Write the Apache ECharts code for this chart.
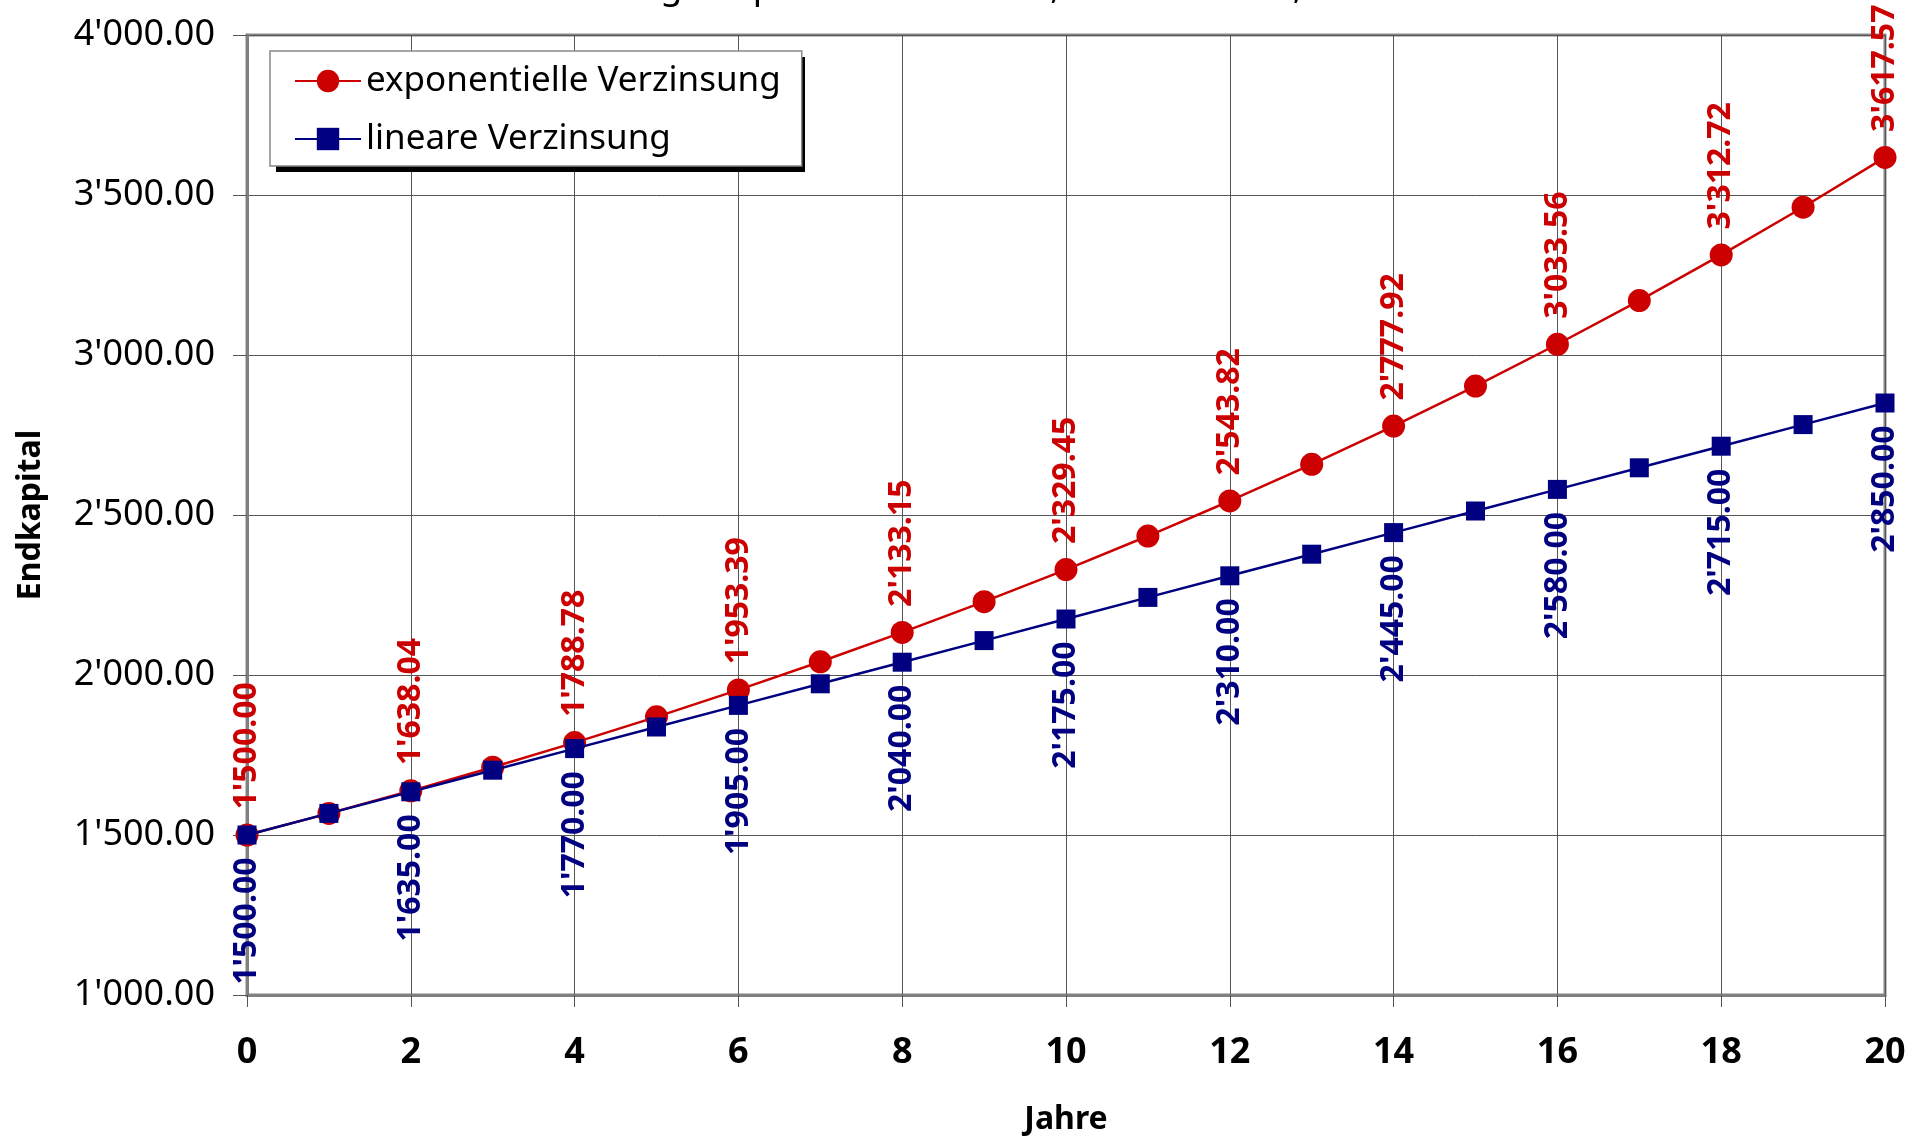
<!DOCTYPE html>
<html>
<head>
<meta charset="utf-8">
<script src="https://cdn.jsdelivr.net/npm/echarts@6/dist/echarts.min.js"></script>
<style>
html,body{margin:0;padding:0;background:#fff;}
#chart{width:1923px;height:1137px;}
</style>
</head>
<body>
<div id="chart"></div>
<script>
var years = [0,1,2,3,4,5,6,7,8,9,10,11,12,13,14,15,16,17,18,19,20];
var expValues = [1500.00,1567.50,1638.04,1711.75,1788.78,1869.27,1953.39,2041.29,2133.15,2229.14,2329.45,2434.28,2543.82,2658.29,2777.92,2902.92,3033.56,3170.06,3312.72,3461.79,3617.57];
var linValues = [1500.00,1567.50,1635.00,1702.50,1770.00,1837.50,1905.00,1972.50,2040.00,2107.50,2175.00,2242.50,2310.00,2377.50,2445.00,2512.50,2580.00,2647.50,2715.00,2782.50,2850.00];
var seriesNames = ['exponentielle Verzinsung','lineare Verzinsung'];
var titleText = "Entwicklung bei p = 4.5 % Zinssatz, K0 = 1'500.00, n = 20";
var xName = 'Jahre';
var yName = 'Endkapital';

function fmt(v){
  var s = Number(v).toFixed(2);
  var parts = s.split('.');
  parts[0] = parts[0].replace(/\B(?=(\d{3})+(?!\d))/g, "'");
  return parts[0] + '.' + parts[1];
}
function build(vals){
  return vals.map(function(v,i){
    return {value:[years[i], v], label:{show: years[i] % 2 === 0}};
  });
}
var FONT = '"Noto Sans", sans-serif';
var chart = echarts.init(document.getElementById('chart'), null, {renderer:'canvas'});
chart.setOption({
  animation:false,
  backgroundColor:'#ffffff',
  textStyle:{fontFamily:FONT},
  title:{
    text:titleText, left:477, top:-30, padding:0,
    textStyle:{fontFamily:FONT, fontSize:36, fontWeight:'normal', color:'#000', lineHeight:36}
  },
  graphic:[{
    type:'rect', z:3, silent:true,
    shape:{x:276, y:57, width:529, height:115},
    style:{fill:'#000'}
  }],
  grid:{left:247, right:38, top:35, bottom:142, outerBoundsMode:'none', containLabel:false,
    show:true, borderColor:'#888', borderWidth:3, backgroundColor:'transparent'},
  legend:{
    orient:'vertical', left:270, top:51, z:5,
    padding:[10,21,7,24],
    itemGap:18, itemWidth:66, itemHeight:28,
    backgroundColor:'#ffffff', borderColor:'#888', borderWidth:1.5,
    textStyle:{fontFamily:FONT, fontSize:35, color:'#000', lineHeight:40},
    data:seriesNames
  },
  xAxis:{
    type:'value', min:0, max:20, interval:2,
    name:xName, nameLocation:'middle', nameGap:109,
    nameTextStyle:{fontFamily:FONT, fontSize:32, fontWeight:'bold', color:'#000'},
    axisLine:{show:true, onZero:false, lineStyle:{color:'#808080', width:3}},
    axisTick:{show:true, inside:false, length:12, lineStyle:{color:'#555', width:1}},
    axisLabel:{fontFamily:FONT, fontSize:36, fontWeight:'bold', color:'#000', margin:40},
    splitLine:{show:true, lineStyle:{color:'#555', width:1}}
  },
  yAxis:{
    type:'value', min:1000, max:4000, interval:500,
    name:yName, nameLocation:'middle', nameGap:200, nameRotate:90,
    nameTextStyle:{fontFamily:FONT, fontSize:32, fontWeight:'bold', color:'#000'},
    axisLine:{show:true, lineStyle:{color:'#808080', width:3}},
    axisTick:{show:true, inside:false, length:14, lineStyle:{color:'#555', width:1}},
    axisLabel:{fontFamily:FONT, fontSize:36, color:'#000', margin:32, formatter:function(v){return fmt(v);}},
    splitLine:{show:true, lineStyle:{color:'#555', width:1}}
  },
  series:[
    {
      name:seriesNames[0], type:'line', data:build(expValues),
      symbol:'circle', symbolSize:23,
      lineStyle:{color:'#CC0000', width:2.5}, itemStyle:{color:'#CC0000'},
      label:{position:'top', rotate:90, align:'left', verticalAlign:'middle', distance:14,
        fontFamily:FONT, fontSize:32, fontWeight:'bold', color:'#CC0000',
        formatter:function(p){return fmt(p.value[1]);}},
      z:3
    },
    {
      name:seriesNames[1], type:'line', data:build(linValues),
      symbol:'rect', symbolSize:19,
      lineStyle:{color:'#000080', width:2.5}, itemStyle:{color:'#000080'},
      label:{position:'bottom', rotate:90, align:'right', verticalAlign:'middle', distance:13,
        fontFamily:FONT, fontSize:32, fontWeight:'bold', color:'#000080',
        formatter:function(p){return fmt(p.value[1]);}},
      z:4
    }
  ]
});
</script>
</body>
</html>
